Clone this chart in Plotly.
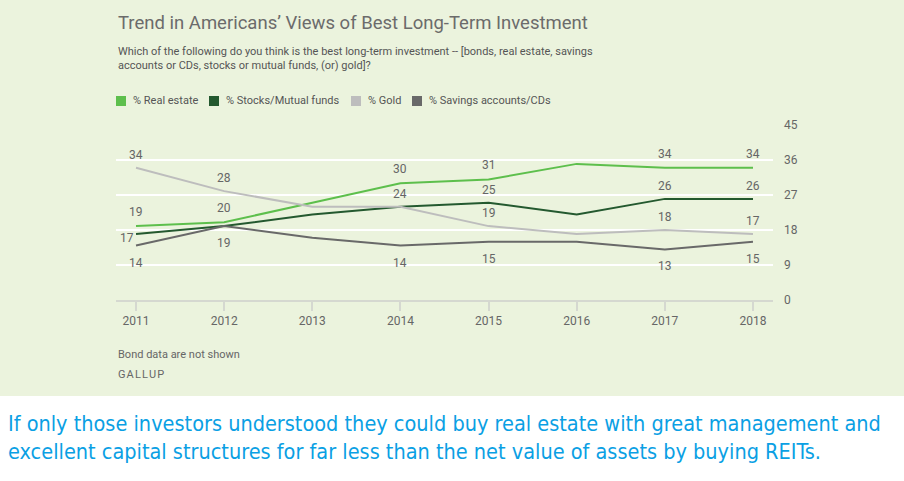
import plotly.graph_objects as go

years = [2011, 2012, 2013, 2014, 2015, 2016, 2017, 2018]
real_estate = [19, 20, 25, 30, 31, 35, 34, 34]
stocks = [17, 19, 22, 24, 25, 22, 26, 26]
gold = [34, 28, 24, 24, 19, 17, 18, 17]
savings = [14, 19, 16, 14, 15, 15, 13, 15]

series_names = ["% Real estate", "% Stocks/Mutual funds", "% Gold", "% Savings accounts/CDs"]
# which points carry a value label
re_labeled = [1, 1, 0, 1, 1, 0, 1, 1]
stocks_labeled = [1, 0, 0, 1, 1, 0, 1, 1]
gold_labeled = [1, 1, 0, 0, 1, 0, 1, 1]
savings_labeled = [1, 1, 0, 1, 1, 0, 1, 1]

y_ticks = [0, 9, 18, 27, 36, 45]

title = "Trend in Americans\u2019 Views of Best Long-Term Investment"
subtitle = ("Which of the following do you think is the best long-term investment -- [bonds, real estate, savings<br>"
            "accounts or CDs, stocks or mutual funds, (or) gold]?")
note = "Bond data are not shown"
source = "G\u200aA\u200aL\u200aL\u200aU\u200aP"
comment = ("If only those investors understood they could buy real estate with great management and<br>"
           "excellent capital structures for far less than the net value of assets by buying REITs.")

colors = ["#5dbf4c", "#24592f", "#bdbdbd", "#696969"]
GREEN_BG = "#ebf3dd"
TXT = "#666666"
FONT = "Roboto, Inter, sans-serif"

L, R, T, B = 116, 131, 125, 181
W, H = 904, 481
PH = H - T - B
PW = W - L - R


def py(p):
    return (H - B - p) / PH


def px(p):
    return (p - L) / PW


fig = go.Figure()
all_series = [real_estate, stocks, gold, savings]
for name, vals, col in zip(series_names, all_series, colors):
    fig.add_trace(go.Scatter(x=years, y=vals, mode="lines", name=name,
                             line=dict(color=col, width=2), showlegend=False,
                             hoverinfo="x+y+name"))

annotations = []
label_cfg = [
    (real_estate, re_labeled, 0, 14),
    (stocks, stocks_labeled, 0, 13),
    (gold, gold_labeled, 0, 13),
    (savings, savings_labeled, 0, -17),
]
for si, (vals, flags, xs, ys) in enumerate(label_cfg):
    for i, (yr, v, f) in enumerate(zip(years, vals, flags)):
        if not f:
            continue
        xshift, yshift = xs, ys
        if si == 1 and i == 0:
            xshift, yshift = -9, -4
        annotations.append(dict(x=yr, y=v, text=str(v), showarrow=False,
                                xshift=xshift, yshift=yshift,
                                font=dict(family=FONT, size=12, color=TXT)))

# title, subtitle
annotations.append(dict(xref="paper", yref="paper", x=0, y=py(23), text=title,
                        showarrow=False, xanchor="left", yanchor="middle",
                        font=dict(family=FONT, size=18.5, color="#6b6b6b")))
annotations.append(dict(xref="paper", yref="paper", x=0, y=py(58.5), text=subtitle,
                        showarrow=False, xanchor="left", yanchor="middle", align="left",
                        font=dict(family=FONT, size=11, color="#555555")))

# legend
leg_sq = [116, 209, 351, 412]
shapes = []
shapes.append(dict(type="rect", xref="paper", yref="paper", x0=px(0), x1=px(W),
                   y0=py(H), y1=py(396), fillcolor="white", line=dict(width=0), layer="below"))
for name, col, xl in zip(series_names, colors, leg_sq):
    shapes.append(dict(type="rect", xref="paper", yref="paper", x0=px(xl), x1=px(xl + 10),
                       y0=py(106), y1=py(96), fillcolor=col, line=dict(width=0)))
    annotations.append(dict(xref="paper", yref="paper", x=px(xl + 15), y=py(101), text=name,
                            showarrow=False, xanchor="left", yanchor="middle",
                            font=dict(family=FONT, size=11, color="#555555")))

annotations.append(dict(xref="paper", yref="paper", x=0, y=py(354), text=note,
                        showarrow=False, xanchor="left", yanchor="middle",
                        font=dict(family=FONT, size=11, color=TXT)))
annotations.append(dict(xref="paper", yref="paper", x=0, y=py(374), text=source,
                        showarrow=False, xanchor="left", yanchor="middle",
                        font=dict(family=FONT, size=11, color=TXT)))
annotations.append(dict(xref="paper", yref="paper", x=px(6), y=py(437), text=comment,
                        showarrow=False, xanchor="left", yanchor="middle", align="left",
                        font=dict(family="Liberation Sans Narrow, DejaVu Sans Condensed, sans-serif",
                                  size=21.5, color="#0aa0e4")))

fig.update_layout(
    width=W, height=H,
    margin=dict(l=L, r=R, t=T, b=B, pad=0),
    paper_bgcolor=GREEN_BG, plot_bgcolor=GREEN_BG,
    showlegend=False,
    shapes=shapes, annotations=annotations,
    xaxis=dict(range=[2010.773, 2018.227], tickmode="array", tickvals=years,
               ticktext=[str(y) for y in years], showgrid=False, zeroline=False,
               showline=True, linecolor="#d5d8d0", linewidth=2,
               ticks="outside", ticklen=9, tickcolor="#d5d8d0", tickwidth=2,
               tickfont=dict(family=FONT, size=12, color=TXT), fixedrange=True),
    yaxis=dict(range=[0, 45], tickmode="array", tickvals=y_ticks, side="right",
               showgrid=True, gridcolor="white", gridwidth=2, zeroline=False,
               showline=False, ticks="", ticklabelstandoff=10,
               tickfont=dict(family=FONT, size=12, color=TXT), fixedrange=True),
)

fig.write_html("out.html", config={"displayModeBar": False},
               post_script="document.body.style.margin='0';document.body.style.overflow='hidden';")
